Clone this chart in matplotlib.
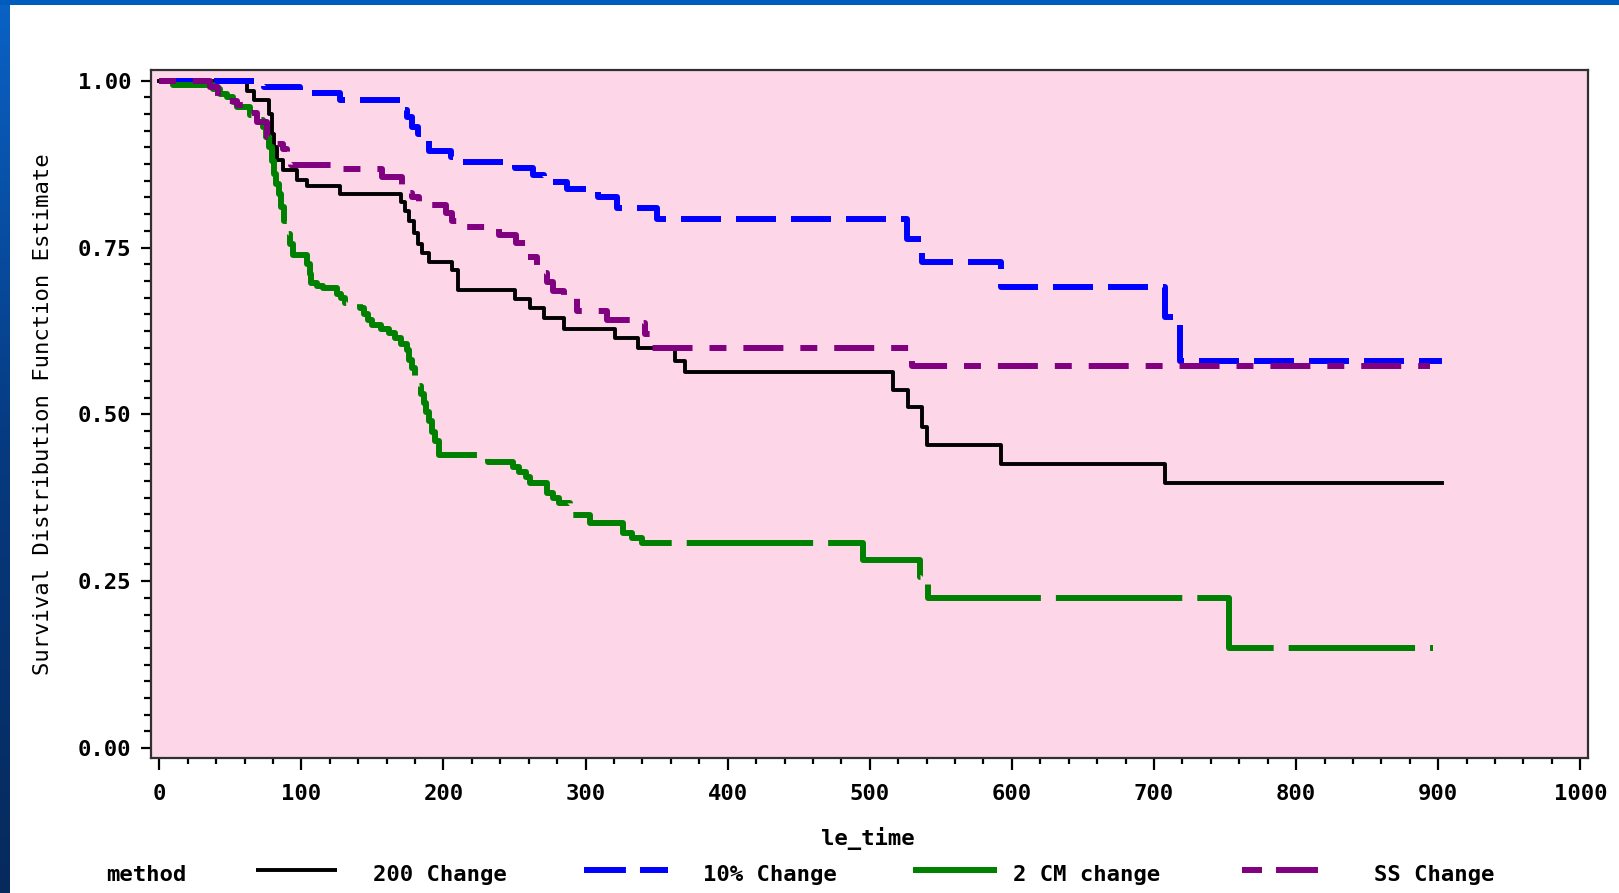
import numpy as np
import matplotlib
matplotlib.use("Agg")
import matplotlib.pyplot as plt
from matplotlib.lines import Line2D
from matplotlib.ticker import MultipleLocator

plt.rcParams['lines.scale_dashes'] = False

# Kaplan-Meier step data (time, survival)
black_t = [0, 62, 67, 77, 79, 81, 83, 87, 97, 104, 127, 170, 173, 176, 179, 182, 185, 190, 206, 210,
           250, 261, 271, 285, 321, 337, 363, 370, 516, 527, 537, 540, 592, 708, 903]
black_s = [1.0, 0.984, 0.971, 0.95, 0.92, 0.90, 0.881, 0.866, 0.851, 0.842, 0.830, 0.818, 0.805, 0.79,
           0.772, 0.755, 0.742, 0.729, 0.717, 0.687, 0.673, 0.659, 0.644, 0.628, 0.614, 0.599, 0.58,
           0.563, 0.537, 0.511, 0.481, 0.454, 0.426, 0.397, 0.397]

blue_t = [0, 74, 99, 127, 171, 174, 178, 182, 186, 190, 205, 209, 250, 263, 271, 287, 309, 322, 350,
          526, 537, 592, 708, 718, 903]
blue_s = [1.0, 0.991, 0.982, 0.971, 0.956, 0.945, 0.931, 0.92, 0.909, 0.894, 0.886, 0.878, 0.869, 0.858,
          0.848, 0.837, 0.825, 0.809, 0.792, 0.762, 0.729, 0.691, 0.646, 0.580, 0.580]

green_t = [0, 10, 38, 43, 48, 52, 55, 64, 68, 73, 75, 77, 79, 81, 82, 84, 86, 88, 90, 92, 94, 104, 106,
           107, 111, 115, 125, 128, 131, 141, 144, 147, 150, 156, 162, 166, 170, 174, 176, 178, 180, 182,
           184, 186, 188, 190, 192, 194, 197, 231, 249, 253, 258, 261, 273, 277, 281, 289, 303, 326, 333,
           340, 495, 535, 541, 753, 896]
green_s = [1.0, 0.994, 0.988, 0.98, 0.976, 0.968, 0.961, 0.949, 0.941, 0.93, 0.915, 0.90, 0.88, 0.86,
           0.845, 0.83, 0.81, 0.79, 0.77, 0.755, 0.739, 0.725, 0.71, 0.697, 0.692, 0.689, 0.68, 0.674,
           0.667, 0.659, 0.65, 0.642, 0.634, 0.628, 0.622, 0.614, 0.606, 0.597, 0.582, 0.57, 0.556, 0.543,
           0.53, 0.517, 0.503, 0.49, 0.474, 0.46, 0.439, 0.429, 0.421, 0.414, 0.406, 0.397, 0.382, 0.375,
           0.367, 0.349, 0.337, 0.322, 0.315, 0.307, 0.282, 0.256, 0.225, 0.150, 0.150]

purple_t = [0, 36, 41, 48, 55, 62, 69, 76, 82, 87, 90, 93, 129, 157, 171, 175, 178, 183, 202, 206,
            210, 239, 251, 258, 266, 273, 277, 285, 294, 315, 338, 342, 347, 530, 894]
purple_s = [1.0, 0.99, 0.976, 0.97, 0.963, 0.952, 0.938, 0.916, 0.905, 0.897, 0.882, 0.874, 0.867, 0.855,
            0.841, 0.832, 0.826, 0.814, 0.802, 0.79, 0.781, 0.769, 0.757, 0.736, 0.712, 0.699, 0.685,
            0.676, 0.655, 0.642, 0.637, 0.62, 0.599, 0.573, 0.573]

labels = ['200 Change', '10% Change', '2 CM change', 'SS Change']
colors = ['#000000', '#0000ff', '#008000', '#800080']
yticks = [0.0, 0.25, 0.5, 0.75, 1.0]
xticks = list(range(0, 1001, 100))

mono = 'DejaVu Sans Mono'
fs = 16

fig = plt.figure(figsize=(16.19, 8.93), dpi=100)
fig.patch.set_facecolor('white')

# blue slide frame (left strip + top bar)
strip = fig.add_axes([0, 0, 9 / 1619, 1])
grad = np.linspace(0, 1, 256).reshape(-1, 1)
strip.imshow(grad, aspect='auto', cmap=matplotlib.colors.LinearSegmentedColormap.from_list(
    'b', ['#0a62c6', '#063a80', '#062a5c']), extent=[0, 1, 0, 1], origin='upper')
strip.axis('off')
top = fig.add_axes([0, 1 - 5 / 893, 1, 5 / 893])
top.set_facecolor('#005cbd')
top.set_xticks([]); top.set_yticks([])
for s in top.spines.values():
    s.set_visible(False)

ax = fig.add_axes([151 / 1619, 1 - 758 / 893, (1588 - 151) / 1619, (758 - 70) / 893])
ax.set_facecolor('#fdd6e8')

ax.step(black_t, black_s, where='post', color=colors[0], lw=2.8)
ax.step(blue_t, blue_s, where='post', color=colors[1], lw=4.3, dashes=(28.8, 10.8))
ax.step(green_t, green_s, where='post', color=colors[2], lw=4.3, dashes=(91, 10.8))
ax.step(purple_t, purple_s, where='post', color=colors[3], lw=4.3, dashes=(12.2, 12.2, 28.8, 12.2))

ax.set_xlim(-5.8, 1005.4)
ax.set_ylim(-0.015, 1.016)
ax.set_xticks(xticks)
ax.set_xticklabels([str(v) for v in xticks])
ax.set_yticks(yticks)
ax.set_yticklabels(['%.2f' % v for v in yticks])
ax.xaxis.set_minor_locator(MultipleLocator(20))
ax.yaxis.set_minor_locator(MultipleLocator(0.025))

ax.tick_params(axis='x', which='major', length=8.6, width=1.6, pad=10, direction='out')
ax.tick_params(axis='x', which='minor', length=4.5, width=1.6, direction='out')
ax.tick_params(axis='y', which='major', length=7.2, width=1.6, pad=7, direction='out')
ax.tick_params(axis='y', which='minor', length=4.8, width=1.6, direction='out')
for lab in ax.get_xticklabels() + ax.get_yticklabels():
    lab.set_fontfamily(mono)
    lab.set_fontweight('bold')
    lab.set_fontsize(fs)
for s in ax.spines.values():
    s.set_linewidth(1.6)
    s.set_color('#303030')

ax.set_xlabel('le_time', fontfamily=mono, fontweight='bold', fontsize=fs)
ax.xaxis.set_label_coords((868 - 151) / 1437, -0.101)
ax.set_ylabel('Survival Distribution Function Estimate', fontfamily=mono, fontsize=16)
ax.yaxis.set_label_coords(-0.068, 0.5)

# legend row at the bottom
ly = 1 - 870 / 893
ty = 1 - 875 / 893
fig.text(106 / 1619, ty, 'method', fontfamily=mono, fontweight='bold', fontsize=fs, va='center')
handle_x = [(256, 337), (584, 668), (913, 997), (1242, 1318)]
text_x = [373, 703, 1013, 1374]
styles = [dict(lw=2.8), dict(lw=4.3, dashes=(30.2, 10.1)), dict(lw=4.3),
          dict(lw=4.3, dashes=(14.4, 10.1, 30.2, 10.1))]
for (x0, x1), tx, c, st, lab in zip(handle_x, text_x, colors, styles, labels):
    fig.add_artist(Line2D([x0 / 1619, x1 / 1619], [ly, ly], transform=fig.transFigure,
                          color=c, solid_capstyle='butt', **st))
    fig.text(tx / 1619, ty, lab, fontfamily=mono, fontweight='bold', fontsize=fs, va='center')

fig.savefig('out.png', dpi=100, facecolor='white')
